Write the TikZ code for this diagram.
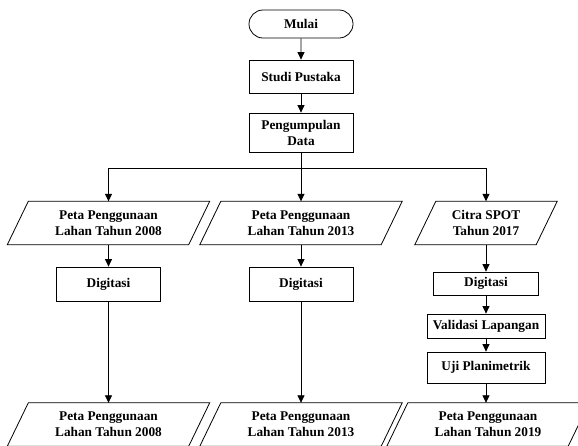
\documentclass[tikz,border=0pt]{standalone}
\usepackage{fontspec}
\setmainfont{Liberation Serif}
\usetikzlibrary{arrows.meta,shapes.misc}
\begin{document}
\begin{tikzpicture}[x=1pt,y=-1pt,
  every node/.style={font=\fontsize{13.3}{16}\selectfont\bfseries, align=center, inner sep=0pt},
  box/.style={draw, line width=0.8pt, minimum width=104pt},
  term/.style={draw, line width=0.8pt, rounded rectangle, minimum width=104pt, minimum height=28pt},
  io/.style={minimum width=181pt, minimum height=43pt},
  ln/.style={line width=0.8pt},
  arr/.style={line width=0.8pt, -{Triangle[length=7.5pt,width=7pt]}}]
\clip (0,0) rectangle (578,445);
\node[term] (mulai) at (301,24) {Mulai};
\node[box, minimum height=33pt] (studi) at (301,76.5) {Studi Pustaka};
\node[box, minimum height=39pt] (kumpul) at (301,132.5) {Pengumpulan\\Data};
\coordinate (j) at (301,168);

\node[io] (p1) at (108.5,223) {Peta Penggunaan\\Lahan Tahun 2008};
\node[io] (p2) at (301,223) {Peta Penggunaan\\Lahan Tahun 2013};
\node[io, minimum width=121pt] (p3) at (486,223) {Citra SPOT\\Tahun 2017};

\node[box, minimum height=34pt] (d1) at (108.5,284) {Digitasi};
\node[box, minimum height=34pt] (d2) at (301,284) {Digitasi};
\node[box, minimum width=105pt, minimum height=23pt] (d3) at (486,283.5) {Digitasi};
\node[box, minimum width=118pt, minimum height=24pt] (val) at (486,326) {Validasi Lapangan};
\node[box, minimum width=118pt, minimum height=31pt] (uji) at (486,367.5) {Uji Planimetrik};

\node[io] (q1) at (108.5,424.5) {Peta Penggunaan\\Lahan Tahun 2008};
\node[io] (q2) at (301,424.5) {Peta Penggunaan\\Lahan Tahun 2013};
\node[io] (q3) at (488,424.5) {Peta Penggunaan\\Lahan Tahun 2019};

\foreach \n in {p1,p2,p3,q1,q2,q3}
  \draw[ln] ([xshift=10.5pt]\n.north west) -- ([xshift=10.5pt]\n.north east)
    -- ([xshift=-10.5pt]\n.south east) -- ([xshift=-10.5pt]\n.south west) -- cycle;

\draw[arr] (mulai) -- (studi);
\draw[arr] (studi) -- (kumpul);
\draw[ln] (kumpul) -- (j);
\draw[arr] (j) -| (p1.north);
\draw[arr] (j) -- (p2.north);
\draw[arr] (j) -| (p3.north);
\draw[arr] (p1) -- (d1);
\draw[arr] (p2) -- (d2);
\draw[arr] (p3) -- (d3);
\draw[arr] (d1) -- (q1);
\draw[arr] (d2) -- (q2);
\draw[arr] (d3) -- (val);
\draw[arr] (val) -- (uji);
\draw[arr] (uji.south) -- (uji.south |- q3.north);
\end{tikzpicture}
\end{document}
